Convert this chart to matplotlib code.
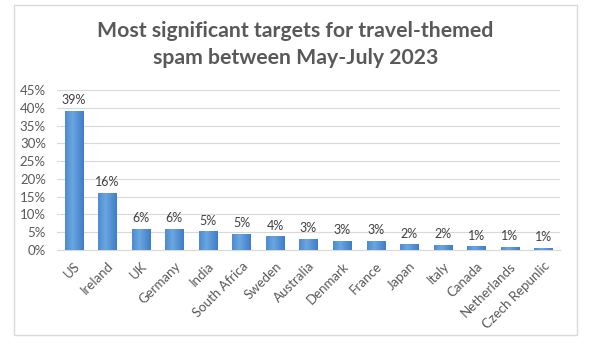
import matplotlib.pyplot as plt
import numpy as np
from matplotlib.patches import Rectangle
from matplotlib.colors import LinearSegmentedColormap

plt.rcParams["font.family"] = ["Lato", "DejaVu Sans"]

countries = ["US", "Ireland", "UK", "Germany", "India", "South Africa", "Sweden",
             "Australia", "Denmark", "France", "Japan", "Italy", "Canada",
             "Netherlands", "Czech Repunlic"]
shares = [39.2, 16.0, 5.9, 5.9, 5.3, 4.6, 3.8, 3.1, 2.6, 2.6, 1.6, 1.5, 1.0, 0.9, 0.7]
labels = ["39%", "16%", "6%", "6%", "5%", "5%", "4%", "3%", "3%", "3%",
          "2%", "2%", "1%", "1%", "1%"]

W, H = 597, 353
fig = plt.figure(figsize=(W / 100, H / 100), dpi=100)
# light chart-area frame
fig.patches.append(Rectangle((14 / W, 1 - 335 / H), 563 / W, 330 / H, transform=fig.transFigure,
                             fill=False, edgecolor="#d9d9d9", linewidth=1))

ax = fig.add_axes([57 / W, 1 - 250 / H, 503 / W, 160 / H])
x = np.arange(len(countries))
bars = ax.bar(x, shares, width=0.54, color="#4f8fd6", zorder=2)

# horizontal gradient inside each bar
grad = np.linspace(0, 1, 64)
grad = np.clip(1 - np.abs(grad - 0.4) * 1.6, 0, 1)[None, :]
cmap = LinearSegmentedColormap.from_list("b", ["#3f7dc8", "#6aa6df"])
for b in bars:
    x0, w, h = b.get_x(), b.get_width(), b.get_height()
    im = ax.imshow(grad, cmap=cmap, aspect="auto", extent=(x0, x0 + w, 0, h), zorder=3)
    im.set_clip_path(b)

for i, v in enumerate(shares):
    ax.text(i, v + 1.3, labels[i], ha="center", va="bottom", fontsize=9, color="#404040")

ax.set_xlim(-0.5, len(countries) - 0.5)
ax.set_ylim(0, 45)
ax.set_yticks(range(0, 50, 5))
ax.set_yticklabels([f"{t}%" for t in range(0, 50, 5)])
ax.set_xticks(x)
ax.set_xticklabels(countries, rotation=45, ha="right", rotation_mode="anchor")
ax.tick_params(length=0, labelsize=9.5, labelcolor="#595959")
ax.tick_params(axis="x", pad=7)
ax.tick_params(axis="y", pad=8)
ax.grid(axis="y", color="#d9d9d9", linewidth=0.8, zorder=0)
for s in ["top", "right", "left"]:
    ax.spines[s].set_visible(False)
ax.spines["bottom"].set_color("#d9d9d9")

t1 = fig.text(0.495, 1 - 37 / H, "Most significant targets for travel-themed",
              ha="center", va="baseline", fontsize=15, fontweight="bold", color="#595959")
t2 = fig.text(0.495, 1 - 64 / H, "spam between May-July 2023",
              ha="center", va="baseline", fontsize=15, fontweight="bold", color="#595959")
# fit title width to ~397 px
fig.canvas.draw()
wpx = t1.get_window_extent().width
fs = 15 * 397 / wpx
t1.set_fontsize(fs)
t2.set_fontsize(fs)

fig.savefig("out.png", dpi=100)
